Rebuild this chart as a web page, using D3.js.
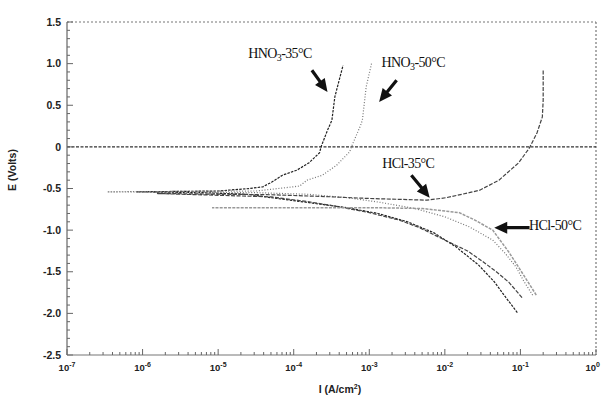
<!DOCTYPE html>
<html><head><meta charset="utf-8">
<script src="https://cdn.jsdelivr.net/npm/d3@7"></script>
<style>body{margin:0;background:#fff}svg{display:block}</style>
</head><body>
<svg id="c" width="601" height="401"></svg>
<script>
// ---- data ----
const yTickLabels = ["1.5","1.0","0.5","0","-0.5","-1.0","-1.5","-2.0","-2.5"];
const yTickValues = [1.5,1.0,0.5,0,-0.5,-1.0,-1.5,-2.0,-2.5];
const xTickExponents = ["-7","-6","-5","-4","-3","-2","-1","0"];

const hno3_35_I = [0.091,0.063,0.045,0.028,0.014,0.0071,0.0032,0.0013,5.0e-4,1.6e-4,5.0e-5,2.5e-5,6.3e-6,8.3e-7,1.0e-5,2.6e-5,3.9e-5,5.2e-5,7.1e-5,1.1e-4,1.6e-4,2.2e-4,2.3e-4,2.8e-4,3.2e-4,3.5e-4,4.1e-4,4.5e-4];
const hno3_35_E = [-1.99,-1.80,-1.62,-1.42,-1.20,-1.03,-0.90,-0.80,-0.73,-0.67,-0.61,-0.57,-0.55,-0.54,-0.53,-0.50,-0.48,-0.42,-0.34,-0.28,-0.19,-0.07,0,0.20,0.32,0.60,0.84,0.98];

const hno3_50_I = [0.145,0.112,0.087,0.063,0.043,0.021,0.010,0.0040,0.00126,5.0e-4,1.6e-4,3.2e-5,3.4e-7,3.2e-5,9.8e-5,1.2e-4,1.5e-4,2.4e-4,3.7e-4,5.5e-4,5.8e-4,7.6e-4,8.1e-4,9.1e-4,1.07e-3];
const hno3_50_E = [-1.78,-1.62,-1.44,-1.28,-1.12,-0.96,-0.84,-0.74,-0.66,-0.61,-0.57,-0.55,-0.54,-0.53,-0.48,-0.47,-0.40,-0.34,-0.22,-0.06,0,0.25,0.32,0.72,1.0];

const hcl_35_I = [0.105,0.079,0.071,0.048,0.032,0.020,0.0117,0.0063,0.0046,0.0025,0.0010,4.0e-4,1.6e-4,5.0e-5,1.55e-6,5.0e-5,3.2e-4,1.0e-3,5.8e-3,0.0105,0.021,0.029,0.052,0.095,0.132,0.166,0.195,0.20,0.20];
const hcl_35_E = [-1.81,-1.68,-1.63,-1.50,-1.38,-1.25,-1.15,-1.03,-0.97,-0.88,-0.79,-0.72,-0.66,-0.60,-0.56,-0.575,-0.60,-0.62,-0.64,-0.61,-0.55,-0.52,-0.40,-0.19,-0.01,0.17,0.36,0.56,0.92];

const hcl_50_I = [0.162,0.112,0.071,0.043,0.025,0.0155,0.0050,0.0010,1.0e-4,8.3e-6];
const hcl_50_E = [-1.78,-1.55,-1.27,-1.00,-0.88,-0.79,-0.74,-0.73,-0.73,-0.73];

const seriesNames = ["HNO3-35","HNO3-50","HCl-35","HCl-50"];

// annotation anchors in data coordinates
const annoText = [["HNO","3","-35°C"],["HNO","3","-50°C"],["HCl-35°C","",""],["HCl-50°C","",""]];
const annoTextPos = [[2.5e-5,1.07],[1.45e-3,0.96],[1.48e-3,-0.25],[0.13,-1.0]];
const annoTail = [[1.74e-4,0.92],[2.3e-3,0.80],[3.6e-3,-0.34],[0.132,-0.97]];
const annoTip = [[2.8e-4,0.66],[1.35e-3,0.54],[6.3e-3,-0.61],[0.045,-0.97]];

// ---- drawing ----
const svg = d3.select("#c");
const x = d3.scaleLog().domain([1e-7,1]).range([67,596]);
const y = d3.scaleLinear().domain([-2.5,1.5]).range([355,22]);

const styles = [
  {stroke:"#222", dash:"2.5,1.2", w:1.2},
  {stroke:"#777", dash:"1,1.8", w:1.2},
  {stroke:"#444", dash:"4,1.5", w:1.2},
  {stroke:"#999", dash:"3,1.2", w:1.5}
];
const series = [
  d3.zip(hno3_35_I,hno3_35_E),
  d3.zip(hno3_50_I,hno3_50_E),
  d3.zip(hcl_35_I,hcl_35_E),
  d3.zip(hcl_50_I,hcl_50_E)
];

// frame: top and right dotted
svg.append("line").attr("x1",x(1e-7)).attr("x2",x(1)).attr("y1",y(1.5)).attr("y2",y(1.5))
  .attr("stroke","#777").attr("stroke-width",1.2).attr("stroke-dasharray","2,2");
svg.append("line").attr("x1",x(1)).attr("x2",x(1)).attr("y1",y(1.5)).attr("y2",y(-2.5))
  .attr("stroke","#777").attr("stroke-width",1.2).attr("stroke-dasharray","2,2");

// zero line
svg.append("line").attr("x1",x(1e-7)).attr("x2",x(1)).attr("y1",y(0)).attr("y2",y(0))
  .attr("stroke","#333").attr("stroke-width",1.2).attr("stroke-dasharray","3,1.5");

// y axis
const yMinor = d3.range(-25,16).map(v=>v/10);
const yAx = svg.append("g").attr("transform",`translate(${x(1e-7)},0)`);
yAx.append("line").attr("x1",0).attr("x2",0).attr("y1",y(1.5)).attr("y2",y(-2.5)).attr("stroke","#666").attr("stroke-width",1.2);
yAx.selectAll("line.mt").data(yMinor).join("line").attr("class","mt")
  .attr("x1",0).attr("x2",d=>Math.abs(Math.round(d*10))%5===0?6:3)
  .attr("y1",d=>y(d)).attr("y2",d=>y(d)).attr("stroke","#666");
yAx.selectAll("text").data(yTickValues).join("text")
  .attr("x",-6).attr("y",d=>y(d)).attr("dy","0.35em").attr("text-anchor","end")
  .attr("font-family","Liberation Sans, Arial, sans-serif").attr("font-weight","bold").attr("font-size",10.5).attr("fill","#222")
  .text((d,i)=>yTickLabels[i]);

// x axis
const xAx = svg.append("g").attr("transform",`translate(0,${y(-2.5)})`);
xAx.append("line").attr("x1",x(1e-7)).attr("x2",x(1)).attr("y1",0).attr("y2",0).attr("stroke","#777").attr("stroke-width",1.2);
const xTicks = x.ticks();
xAx.selectAll("line.t").data(xTicks).join("line").attr("class","t")
  .attr("x1",d=>x(d)).attr("x2",d=>x(d)).attr("y1",0)
  .attr("y2",d=>Math.abs(Math.log10(d)-Math.round(Math.log10(d)))<1e-6?-6:-3).attr("stroke","#666");
const xMaj = xTickExponents.map(e=>Math.pow(10,+e));
const xl = xAx.selectAll("text").data(xMaj).join("text")
  .attr("x",(d,i)=>i===xMaj.length-1?600:x(d)).attr("y",16)
  .attr("text-anchor",(d,i)=>i===xMaj.length-1?"end":"middle")
  .attr("font-family","Liberation Sans, Arial, sans-serif").attr("font-weight","bold").attr("font-size",9.5).attr("fill","#222");
xl.append("tspan").text("10");
xl.append("tspan").attr("dy",-4).attr("font-size",7).text((d,i)=>xTickExponents[i]);

// axis titles
svg.append("text").attr("x",340).attr("y",393).attr("text-anchor","middle")
  .attr("font-family","Liberation Sans, Arial, sans-serif").attr("font-weight","bold").attr("font-size",10.5).attr("fill","#222")
  .call(t=>{t.append("tspan").text("I (A/cm");t.append("tspan").attr("dy",-4).attr("font-size",7).text("2");t.append("tspan").attr("dy",4).text(")");});
svg.append("text").attr("transform","translate(16,170) rotate(-90)").attr("text-anchor","middle")
  .attr("font-family","Liberation Sans, Arial, sans-serif").attr("font-weight","bold").attr("font-size",10.5).attr("fill","#222")
  .text("E (Volts)");

// curves
const line = d3.line().x(d=>x(d[0])).y(d=>y(d[1])).curve(d3.curveLinear);
svg.selectAll("path.s").data(series).join("path").attr("class","s")
  .attr("d",line).attr("fill","none")
  .attr("stroke",(d,i)=>styles[i].stroke).attr("stroke-width",(d,i)=>styles[i].w)
  .attr("stroke-dasharray",(d,i)=>styles[i].dash);

// annotations
annoText.forEach((a,i)=>{
  const t = svg.append("text").attr("x",x(annoTextPos[i][0])).attr("y",y(annoTextPos[i][1]))
    .attr("font-family","Liberation Serif, Times New Roman, serif").attr("font-size",14).attr("fill","#111")
    .attr("letter-spacing",-0.6);
  t.append("tspan").text(a[0]);
  if (a[1]) { t.append("tspan").attr("dy",3).attr("font-size",10).text(a[1]); t.append("tspan").attr("dy",-3).text(a[2]); }
  const x1=x(annoTail[i][0]), y1=y(annoTail[i][1]), x2=x(annoTip[i][0]), y2=y(annoTip[i][1]);
  const dx=x2-x1, dy=y2-y1, L=Math.hypot(dx,dy), ux=dx/L, uy=dy/L, px=-uy, py=ux;
  const hl=13, hw=6, sw=1.6;
  const bx=x2-ux*hl, by=y2-uy*hl;
  const pts=[[x1+px*sw,y1+py*sw],[bx+px*sw,by+py*sw],[bx+px*hw,by+py*hw],[x2,y2],[bx-px*hw,by-py*hw],[bx-px*sw,by-py*sw],[x1-px*sw,y1-py*sw]];
  svg.append("path").attr("d","M"+pts.map(p=>p.join(",")).join("L")+"Z").attr("fill","#111");
});
</script>
</body></html>
